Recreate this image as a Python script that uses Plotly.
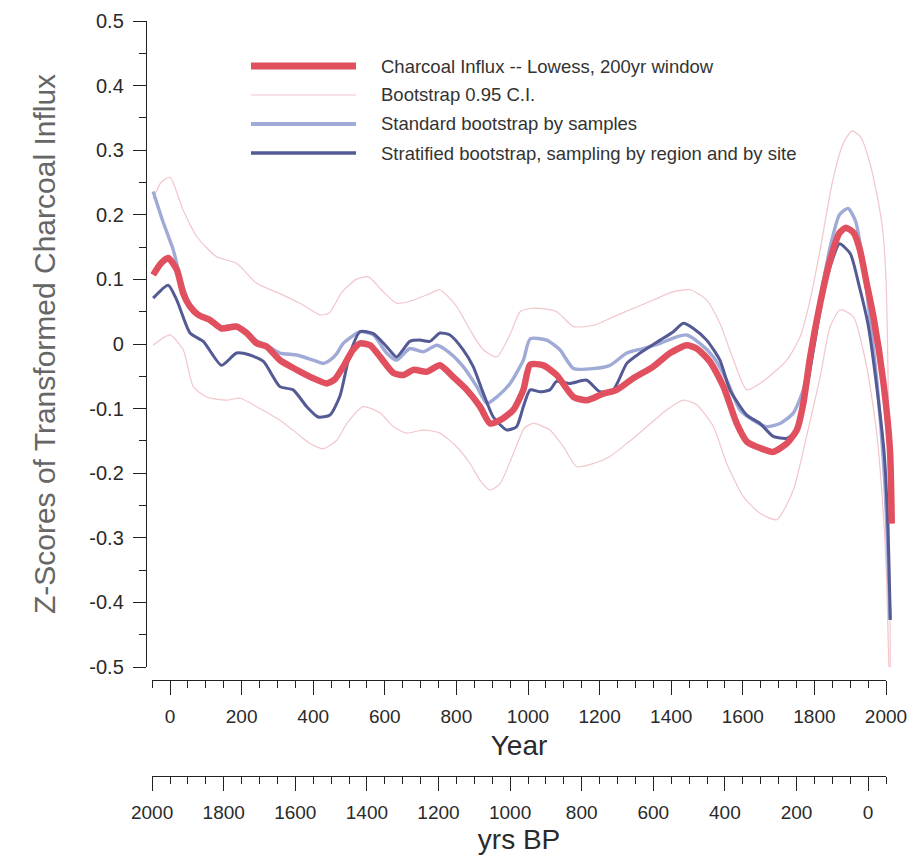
import plotly.graph_objects as go

# ---- data (calendar years AD, z-scores) ----
red_years = [-47, -25, -5, 19, 37, 56, 79, 112, 144, 186, 214, 242, 270, 307, 354, 400, 438, 460,
             484, 510, 531, 559, 587, 624, 652, 680, 717, 754, 791, 829, 866, 894, 922, 959, 987,
             1006, 1043, 1080, 1127, 1164, 1210, 1248, 1294, 1350, 1397, 1443, 1471, 1508, 1546,
             1583, 1611, 1648, 1685, 1723, 1751, 1769, 1788, 1816, 1844, 1870, 1888, 1910, 1927,
             1946, 1965, 1993, 2011, 2016]
red_vals = [0.107, 0.125, 0.133, 0.115, 0.078, 0.058, 0.045, 0.037, 0.024, 0.027, 0.017, 0.001,
            -0.004, -0.025, -0.040, -0.053, -0.061, -0.055, -0.035, -0.010, 0.001, -0.002, -0.020,
            -0.045, -0.048, -0.040, -0.043, -0.033, -0.051, -0.071, -0.097, -0.123, -0.118, -0.102,
            -0.071, -0.032, -0.033, -0.048, -0.082, -0.087, -0.077, -0.071, -0.053, -0.035, -0.014,
            -0.002, -0.007, -0.027, -0.066, -0.123, -0.151, -0.161, -0.167, -0.154, -0.133, -0.092,
            -0.020, 0.063, 0.130, 0.172, 0.180, 0.172, 0.146, 0.094, 0.042, -0.061, -0.164, -0.278]

std_years = [-47, -20, 9, 28, 45, 56, 79, 112, 144, 186, 214, 242, 270, 307, 354, 400, 428, 447,
             466, 484, 531, 568, 605, 633, 670, 708, 745, 782, 819, 857, 885, 913, 950, 987, 1006,
             1052, 1089, 1127, 1183, 1229, 1276, 1322, 1369, 1415, 1443, 1480, 1518, 1555, 1592,
             1629, 1667, 1704, 1741, 1769, 1790, 1816, 1844, 1870, 1894, 1915, 1935, 1955, 1975,
             1995, 2005, 2011]
std_vals = [0.236, 0.190, 0.146, 0.104, 0.075, 0.060, 0.047, 0.039, 0.027, 0.029, 0.020, 0.005,
            -0.002, -0.014, -0.017, -0.025, -0.030, -0.025, -0.015, 0.001, 0.019, 0.014, -0.014,
            -0.025, -0.007, -0.012, -0.002, -0.014, -0.035, -0.066, -0.092, -0.082, -0.061, -0.025,
            0.008, 0.006, -0.009, -0.038, -0.038, -0.033, -0.014, -0.007, 0.001, 0.011, 0.014,
            0.001, -0.020, -0.056, -0.102, -0.118, -0.128, -0.123, -0.107, -0.071, -0.010, 0.070,
            0.150, 0.200, 0.210, 0.190, 0.130, 0.040, -0.060, -0.200, -0.320, -0.427]

strat_years = [-47, -5, 19, 56, 93, 144, 186, 223, 261, 307, 344, 382, 414, 447, 475, 503, 531,
               568, 605, 633, 670, 698, 726, 754, 782, 819, 847, 875, 903, 941, 968, 987, 1006,
               1034, 1061, 1080, 1117, 1164, 1201, 1238, 1276, 1313, 1369, 1406, 1434, 1462, 1499,
               1536, 1564, 1611, 1648, 1685, 1723, 1751, 1775, 1800, 1825, 1850, 1870, 1900, 1925,
               1950, 1975, 1995, 2005, 2012]
strat_vals = [0.071, 0.091, 0.068, 0.017, 0.004, -0.033, -0.014, -0.017, -0.027, -0.066, -0.071,
              -0.097, -0.113, -0.110, -0.080, -0.014, 0.019, 0.016, -0.004, -0.020, 0.004, 0.006,
              0.004, 0.017, 0.014, -0.009, -0.035, -0.076, -0.113, -0.133, -0.128, -0.097, -0.071,
              -0.074, -0.071, -0.058, -0.061, -0.056, -0.074, -0.071, -0.030, -0.014, 0.006, 0.019,
              0.032, 0.024, 0.006, -0.025, -0.071, -0.110, -0.123, -0.143, -0.146, -0.133, -0.080,
              0.000, 0.080, 0.130, 0.155, 0.140, 0.090, 0.030, -0.070, -0.170, -0.280, -0.427]

ci_up_years = [-47, -25, 0, 37, 75, 130, 186, 242, 307, 363, 420, 445, 480, 520, 555, 590, 633,
               680, 726, 754, 801, 838, 875, 913, 950, 978, 1006, 1034, 1080, 1127, 1183, 1238,
               1294, 1350, 1406, 1453, 1499, 1536, 1574, 1611, 1648, 1685, 1723, 1760, 1788, 1816,
               1850, 1880, 1905, 1930, 1955, 1975, 1990, 2000, 2008, 2012]
ci_up_vals = [0.225, 0.250, 0.258, 0.207, 0.166, 0.135, 0.125, 0.094, 0.078, 0.063, 0.045, 0.048,
              0.080, 0.100, 0.104, 0.084, 0.063, 0.068, 0.078, 0.084, 0.058, 0.022, -0.009, -0.020,
              0.015, 0.050, 0.055, 0.055, 0.050, 0.027, 0.029, 0.042, 0.055, 0.068, 0.081, 0.084,
              0.068, 0.032, -0.025, -0.071, -0.061, -0.045, -0.025, 0.011, 0.068, 0.146, 0.250,
              0.310, 0.330, 0.320, 0.280, 0.230, 0.180, 0.100, -0.150, -0.500]

ci_lo_years = [-47, 0, 37, 65, 102, 158, 196, 242, 307, 354, 391, 428, 466, 494, 540, 587, 624,
               661, 708, 754, 801, 838, 866, 894, 922, 959, 990, 1015, 1061, 1099, 1136, 1183, 1229,
               1276, 1332, 1387, 1434, 1471, 1518, 1555, 1601, 1648, 1695, 1741, 1778, 1816, 1844,
               1872, 1909, 1946, 1974, 1993, 2002, 2008]
ci_lo_vals = [-0.002, 0.014, -0.009, -0.066, -0.082, -0.087, -0.084, -0.097, -0.118, -0.138,
              -0.154, -0.162, -0.149, -0.123, -0.097, -0.107, -0.128, -0.138, -0.133, -0.138,
              -0.159, -0.185, -0.211, -0.226, -0.216, -0.170, -0.130, -0.123, -0.133, -0.159,
              -0.190, -0.185, -0.174, -0.154, -0.128, -0.102, -0.087, -0.094, -0.128, -0.185,
              -0.236, -0.262, -0.272, -0.226, -0.143, -0.051, 0.027, 0.053, 0.042, -0.035, -0.138,
              -0.267, -0.370, -0.500]

y_ticks = [0.5, 0.4, 0.3, 0.2, 0.1, 0.0, -0.1, -0.2, -0.3, -0.4, -0.5]
y_tick_labels = ["0.5", "0.4", "0.3", "0.2", "0.1", "0", "-0.1", "-0.2", "-0.3", "-0.4", "-0.5"]
year_ticks = [0, 200, 400, 600, 800, 1000, 1200, 1400, 1600, 1800, 2000]
bp_ticks = [2000, 1800, 1600, 1400, 1200, 1000, 800, 600, 400, 200, 0]

labels = {
    "red": "Charcoal Influx -- Lowess, 200yr window",
    "ci": "Bootstrap 0.95 C.I.",
    "std": "Standard bootstrap by samples",
    "strat": "Stratified bootstrap, sampling by region and by site",
}

# ---- styling ----
RED = "#e0505e"
CI = "#f2c6cb"
LIGHT = "#a0aad6"
DARK = "#535a94"
AXIS = "#222222"
FONT = "Liberation Sans, Arial, sans-serif"

W, H = 918, 862
L, R, T, B = 147, 23, 21, 77
PW, PH = W - L - R, H - T - B


def fx(px):
    return (px - L) / PW


def fy(py):
    return (H - B - py) / PH


fig = go.Figure()

traces = [
    (ci_up_years, ci_up_vals, CI, 1.2, labels["ci"]),
    (ci_lo_years, ci_lo_vals, CI, 1.2, labels["ci"]),
    (std_years, std_vals, LIGHT, 3.4, labels["std"]),
    (strat_years, strat_vals, DARK, 3.0, labels["strat"]),
    (red_years, red_vals, RED, 6.5, labels["red"]),
]
for xs, ys, col, w, name in traces:
    fig.add_trace(go.Scatter(
        x=xs, y=ys, mode="lines", name=name, showlegend=False,
        line=dict(color=col, width=w, shape="spline", smoothing=0.6),
        hoverinfo="skip",
    ))

# empty holders so the two time scales below the plot get drawn
for ax in ("2", "3"):
    fig.add_trace(go.Scatter(x=[], y=[], xaxis="x" + ax, yaxis="y" + ax,
                             mode="lines", showlegend=False, hoverinfo="skip"))

# legend drawn as sample strokes with labels
legend_rows = [(labels["red"], RED, 7), (labels["ci"], CI, 1.2),
               (labels["std"], LIGHT, 4), (labels["strat"], DARK, 3.5)]
row_px = [66, 95, 124, 153]
for (txt, col, w), py in zip(legend_rows, row_px):
    fig.add_shape(type="line", xref="paper", yref="paper",
                  x0=fx(251), x1=fx(356), y0=fy(py), y1=fy(py),
                  line=dict(color=col, width=w))
    fig.add_annotation(text=txt, xref="paper", yref="paper", x=fx(379), y=fy(py),
                       xanchor="left", yanchor="middle", showarrow=False,
                       font=dict(family=FONT, size=18.5, color="#333333"))

y_tick_font = dict(family=FONT, size=20, color="#2a2a2a")
x_tick_font = dict(family=FONT, size=19, color="#2a2a2a")

x_common = dict(
    domain=[fx(152.1), fx(886)], range=[-50, 2000], automargin=False,
    ticks="outside", ticklen=14, tickwidth=1.2, tickcolor=AXIS,
    minor=dict(dtick=50, tick0=-50, ticks="outside", ticklen=7, tickcolor=AXIS, tickwidth=1.2),
    showline=True, linecolor=AXIS, linewidth=1.4, ticklabelstandoff=5,
    showgrid=False, zeroline=False, tickfont=x_tick_font, tickmode="array",
)

fig.update_layout(
    width=W, height=H,
    margin=dict(l=L, r=R, t=T, b=B),
    paper_bgcolor="white", plot_bgcolor="white",
    showlegend=False,
    xaxis=dict(domain=[0, 1], range=[-64.2, 2025.1], visible=False, automargin=False),
    yaxis=dict(
        domain=[fy(667), 1], range=[-0.5, 0.5], automargin=False,
        tickmode="array", tickvals=y_ticks, ticktext=y_tick_labels,
        ticks="outside", ticklen=13, tickwidth=1.2, tickcolor=AXIS,
        minor=dict(dtick=0.05, tick0=0, ticks="outside", ticklen=7, tickcolor=AXIS, tickwidth=1.2),
        showline=True, linecolor=AXIS, linewidth=1.4,
        showgrid=False, zeroline=False, tickfont=y_tick_font, ticklabelstandoff=5,
        title=dict(text="Z-Scores of Transformed Charcoal Influx", standoff=24,
                   font=dict(family=FONT, size=30, color="#666666")),
    ),
    xaxis2=dict(
        x_common, anchor="y2",
        tickvals=year_ticks, ticktext=[str(v) for v in year_ticks],
        title=dict(text="Year", standoff=9,
                   font=dict(family=FONT, size=28, color="#2a2a2a")),
    ),
    yaxis2=dict(domain=[fy(680), fy(680) + 0.002], anchor="x2", range=[0, 1], visible=False),
    xaxis3=dict(
        x_common, anchor="y3",
        tickvals=[1950 - b for b in bp_ticks], ticktext=[str(b) for b in bp_ticks],
        title=dict(text="yrs BP", standoff=7,
                   font=dict(family=FONT, size=28, color="#2a2a2a")),
    ),
    yaxis3=dict(domain=[fy(776), fy(776) + 0.002], anchor="x3", range=[0, 1], visible=False),
)

fig.write_html("out.html")
